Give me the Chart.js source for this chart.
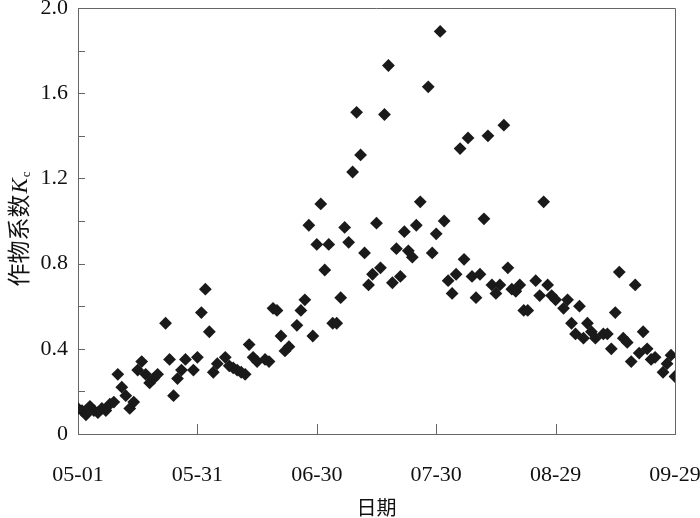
<!DOCTYPE html>
<html>
<head>
<meta charset="utf-8">
<script src="https://cdn.jsdelivr.net/npm/chart.js@4.4.0/dist/chart.umd.min.js"></script>
<style>
  body { margin: 0; background: #fff; }
  canvas { display: block; }
</style>
</head>
<body>
<canvas id="kcChart" width="700" height="518"></canvas>
<script>
// days since 05-01 and crop coefficient Kc
const days = [0, 1, 2, 3, 4, 5, 6, 7, 8, 9,
    10, 11, 12, 13, 14, 15, 16, 17, 18, 19,
    20, 22, 23, 24, 25, 26, 27, 29, 30, 31,
    32, 33, 34, 35, 37, 38, 39, 40, 41, 42,
    43, 44, 45, 47, 48, 49, 50, 51, 52, 53,
    55, 56, 57, 58, 59, 60, 61, 62, 63, 64,
    65, 66, 67, 68, 69, 70, 71, 72, 73, 74,
    75, 76, 77, 78, 79, 80, 81, 82, 83, 84,
    85, 86, 88, 89, 90, 91, 92, 93, 94, 95,
    96, 97, 98, 99, 100, 101, 102, 103, 104, 105,
    106, 107, 108, 109, 110, 111, 112, 113, 115, 116,
    117, 118, 119, 120, 122, 123, 124, 125, 126, 127,
    128, 129, 130, 132, 133, 134, 135, 136, 137, 138,
    139, 140, 141, 142, 143, 144, 145, 147, 148, 149,
    150];
const kcValues = [0.12, 0.11, 0.09, 0.13, 0.11, 0.10, 0.12, 0.11, 0.14, 0.15,
    0.28, 0.22, 0.18, 0.12, 0.15, 0.30, 0.34, 0.28, 0.24, 0.26,
    0.28, 0.52, 0.35, 0.18, 0.26, 0.30, 0.35, 0.30, 0.36, 0.57,
    0.68, 0.48, 0.29, 0.33, 0.36, 0.32, 0.31, 0.30, 0.29, 0.28,
    0.42, 0.36, 0.34, 0.35, 0.34, 0.59, 0.58, 0.46, 0.39, 0.41,
    0.51, 0.58, 0.63, 0.98, 0.46, 0.89, 1.08, 0.77, 0.89, 0.52,
    0.52, 0.64, 0.97, 0.90, 1.23, 1.51, 1.31, 0.85, 0.70, 0.75,
    0.99, 0.78, 1.50, 1.73, 0.71, 0.87, 0.74, 0.95, 0.86, 0.83,
    0.98, 1.09, 1.63, 0.85, 0.94, 1.89, 1.00, 0.72, 0.66, 0.75,
    1.34, 0.82, 1.39, 0.74, 0.64, 0.75, 1.01, 1.40, 0.70, 0.66,
    0.70, 1.45, 0.78, 0.68, 0.67, 0.70, 0.58, 0.58, 0.72, 0.65,
    1.09, 0.70, 0.65, 0.63, 0.59, 0.63, 0.52, 0.47, 0.60, 0.45,
    0.52, 0.48, 0.45, 0.47, 0.47, 0.40, 0.57, 0.76, 0.45, 0.43,
    0.34, 0.70, 0.38, 0.48, 0.40, 0.35, 0.36, 0.29, 0.33, 0.37,
    0.27];

const xTickDays = [0, 30, 60, 90, 120, 150];
const xTickLabels = ['05-01', '05-31', '06-30', '07-30', '08-29', '09-29'];

const serif = '"Liberation Serif", "Times New Roman", serif';
const cjk = '"Noto Sans CJK SC", sans-serif';
const axisColor = '#666';

// inward tick marks, closed frame and the axis titles
const framePlugin = {
    id: 'frame',
    afterDraw(chart) {
        const ctx = chart.ctx;
        const area = chart.chartArea;
        const xs = chart.scales.x;
        const ys = chart.scales.y;

        ctx.save();
        ctx.strokeStyle = axisColor;
        ctx.lineWidth = 1;
        ctx.beginPath();
        ctx.moveTo(area.left, area.top + 0.5);
        ctx.lineTo(area.right + 0.5, area.top + 0.5);
        ctx.lineTo(area.right + 0.5, area.bottom);
        for (let v = 0.2; v < 1.99; v += 0.2) {
            const y = Math.round(ys.getPixelForValue(v)) + 0.5;
            ctx.moveTo(area.left, y);
            ctx.lineTo(area.left + 7, y);
        }
        xTickDays.slice(1, -1).forEach(d => {
            const x = Math.round(xs.getPixelForValue(d)) + 0.5;
            ctx.moveTo(x, area.bottom);
            ctx.lineTo(x, area.bottom - 10);
        });
        ctx.stroke();

        // x title
        ctx.fillStyle = '#111';
        ctx.font = '20px ' + cjk;
        ctx.textAlign = 'center';
        ctx.textBaseline = 'middle';
        ctx.fillText('日期', (area.left + area.right) / 2, 507);

        // y title: 作物系数 K(italic) with subscript c
        ctx.translate(19, (area.top + area.bottom) / 2 + 8);
        ctx.rotate(-Math.PI / 2);
        ctx.textAlign = 'left';
        ctx.textBaseline = 'alphabetic';
        const part1 = '作物系数';
        ctx.font = '23px ' + cjk;
        const w1 = ctx.measureText(part1).width;
        ctx.font = 'italic 23px ' + serif;
        const w2 = ctx.measureText('K').width;
        ctx.font = '13px ' + serif;
        const w3 = ctx.measureText('c').width;
        let x0 = -(w1 + w2 + w3 + 2) / 2;
        ctx.font = '23px ' + cjk;
        ctx.fillText(part1, x0, 8);
        x0 += w1 + 1;
        ctx.font = 'italic 23px ' + serif;
        ctx.fillText('K', x0, 8);
        x0 += w2 + 1;
        ctx.font = '13px ' + serif;
        ctx.fillText('c', x0, 11);
        ctx.restore();
    }
};

const points = days.map((d, i) => ({ x: d, y: kcValues[i] }));

new Chart(document.getElementById('kcChart'), {
    type: 'scatter',
    data: {
        datasets: [{
            data: points,
            pointStyle: 'rectRot',
            pointRadius: 6.4,
            borderWidth: 0,
            backgroundColor: '#1a1a1a',
            borderColor: '#1a1a1a'
        }]
    },
    options: {
        responsive: false,
        animation: false,
        layout: { padding: { top: 8, right: 25, left: 0, bottom: 0 } },
        plugins: {
            legend: { display: false },
            tooltip: { enabled: false }
        },
        scales: {
            x: {
                type: 'linear',
                min: 0,
                max: 150,
                afterBuildTicks: scale => {
                    scale.ticks = xTickDays.map(v => ({ value: v }));
                },
                afterFit: scale => {
                    scale.height = 84;
                    scale.paddingLeft = 0;
                    scale.paddingRight = 0;
                },
                ticks: {
                    callback: value => xTickLabels[xTickDays.indexOf(value)],
                    font: { family: serif, size: 22 },
                    color: '#111',
                    padding: 28,
                    maxRotation: 0,
                    autoSkip: false
                },
                grid: { drawOnChartArea: false, drawTicks: false },
                border: { display: true, color: axisColor, width: 1 }
            },
            y: {
                min: 0,
                max: 2,
                afterFit: scale => {
                    scale.width = 78;
                    scale.paddingTop = 0;
                    scale.paddingBottom = 0;
                },
                ticks: {
                    stepSize: 0.4,
                    callback: value => {
                        const t = Math.round(value * 10);
                        return t === 0 ? '0' : (t / 10).toFixed(1);
                    },
                    font: { family: serif, size: 22 },
                    color: '#111',
                    padding: 10
                },
                grid: { drawOnChartArea: false, drawTicks: false },
                border: { display: true, color: axisColor, width: 1 }
            }
        }
    },
    plugins: [framePlugin]
});
</script>
</body>
</html>
